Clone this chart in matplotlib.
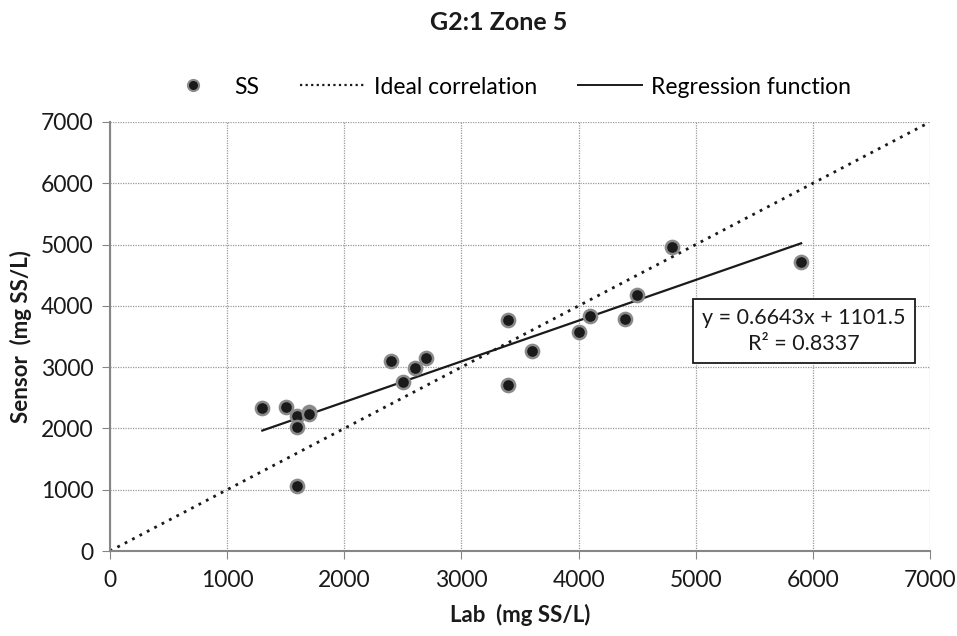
import matplotlib
matplotlib.use("Agg")
import matplotlib.pyplot as plt
from matplotlib.lines import Line2D
import numpy as np

plt.rcParams['font.family'] = ['Lato', 'DejaVu Sans']

title = "G2:1 Zone 5"
lab = [1300, 1500, 1600, 1600, 1600, 1700, 1700, 2400, 2500, 2600, 2700,
       3400, 3400, 3600, 4000, 4100, 4400, 4500, 4800, 5900]
sensor = [2330, 2345, 2200, 2030, 1060, 2275, 2235, 3105, 2750, 2980, 3155,
          3770, 2705, 3260, 3580, 3840, 3790, 4175, 4960, 4720]
slope = 0.6643
intercept = 1101.5
r2 = 0.8337
ideal_x = [0, 7000]
xticks = [0, 1000, 2000, 3000, 4000, 5000, 6000, 7000]
yticks = [0, 1000, 2000, 3000, 4000, 5000, 6000, 7000]

fig = plt.figure(figsize=(9.57, 6.36), dpi=100)
ax = fig.add_axes([110/957, 1-551/636, 820/957, 429/636])

ax.plot(ideal_x, ideal_x, linestyle=(0, (1, 2)), color='#1a1a1a', lw=2.0, zorder=2)
rx = np.array([min(lab), max(lab)])
ax.plot(rx, slope*rx + intercept, color='#1a1a1a', lw=1.6, zorder=3)
ax.plot(lab, sensor, linestyle='none', marker='o', markersize=9.5,
        markerfacecolor='#1a1a1a', markeredgecolor='#8a8a8a', markeredgewidth=1.8, zorder=4)

ax.set_xlim(0, 7000)
ax.set_ylim(0, 7000)
ax.set_xticks(xticks)
ax.set_yticks(yticks)
ax.grid(True, color='#9a9a9a', linestyle=(0, (1, 1)), lw=0.9)
ax.set_axisbelow(True)
for s in ['top', 'right']:
    ax.spines[s].set_visible(False)
for s in ['left', 'bottom']:
    ax.spines[s].set_color('#868686')
    ax.spines[s].set_linewidth(1.5)
ax.tick_params(axis='x', direction='out', length=6, color='#868686', labelsize=16.5, pad=8)
ax.tick_params(axis='y', direction='out', length=6, color='#868686', labelsize=16.5, pad=6)
for lbl in ax.get_xticklabels() + ax.get_yticklabels():
    lbl.set_color('#1a1a1a')

ax.set_xlabel("Lab  (mg SS/L)", fontsize=16, fontweight='bold', labelpad=9, color='#1a1a1a')
ax.set_ylabel("Sensor  (mg SS/L)", fontsize=16, fontweight='bold', labelpad=6, color='#1a1a1a')

fig.text(499/957, 1-22/636, title, ha='center', va='center', fontsize=18, fontweight='bold', color='#1a1a1a')

ax.text(804/957, 1-331/636, f"y = {slope}x + {intercept}\nR² = {r2}", transform=fig.transFigure,
        ha='center', va='center', fontsize=15.5, color='#1a1a1a', linespacing=1.35,
        bbox=dict(boxstyle='square,pad=0.45', facecolor='white', edgecolor='#1a1a1a', lw=1.3),
        zorder=6)

handles = [
    Line2D([], [], linestyle='none', marker='o', markersize=8, markerfacecolor='#1a1a1a',
           markeredgecolor='#8a8a8a', markeredgewidth=1.5),
    Line2D([], [], linestyle=(0, (1, 1.5)), color='#1a1a1a', lw=1.6),
    Line2D([], [], color='#1a1a1a', lw=1.4),
]
fig.legend(handles, ["SS", "Ideal correlation", "Regression function"], loc='center',
           bbox_to_anchor=(506/957, 1-87/636), ncol=3, frameon=False, fontsize=16.5,
           handlelength=2.8, columnspacing=1.8, handletextpad=0.4)

fig.savefig("out.png", dpi=100)
